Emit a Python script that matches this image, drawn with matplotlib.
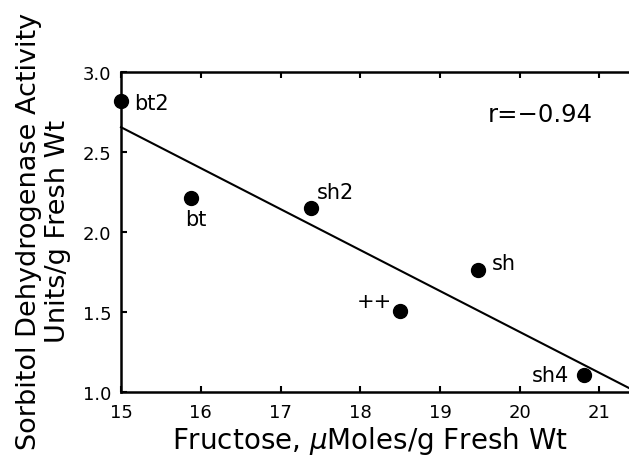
import numpy as np
import matplotlib.pyplot as plt

plt.rcParams['font.family'] = ['DejaVu Sans']

# data
labels = ["bt2", "bt", "sh2", "++", "sh", "sh4"]
fructose = [15.0, 15.88, 17.38, 18.5, 19.48, 20.81]
activity = [2.82, 2.21, 2.15, 1.507, 1.76, 1.105]
fit_x = [15.0, 21.37]
fit_y = [2.656, 1.023]
r_text = "r=\u22120.94"

# label offsets (points) and alignment
offsets = {"bt2": (9.5, -1.5, "left", "center"),
           "bt": (3, -14.5, "center", "center"),
           "sh2": (4, 11.5, "left", "center"),
           "++": (-6, 7, "right", "center"),
           "sh": (9.5, 5.5, "left", "center"),
           "sh4": (-11, 0, "right", "center")}

fig = plt.figure(figsize=(6.29, 4.56), dpi=100)
ax = fig.add_axes([0.1924, 0.1388, 0.8076, 0.7005])

ax.plot(fit_x, fit_y, color="black", lw=1.5, clip_on=False)
ax.scatter(fructose, activity, s=100, color="black", zorder=3, clip_on=False)
for lab, x, y in zip(labels, fructose, activity):
    dx, dy, ha, va = offsets[lab]
    ax.annotate(lab, (x, y), xytext=(dx, dy), textcoords="offset points",
                ha=ha, va=va, fontsize=15)

ax.text(20.92, 2.74, r_text, ha="right", va="center", fontsize=17.5)

ax.set_xlim(15, 21.37)
ax.set_ylim(1.0, 3.0)
ax.set_xticks([15, 16, 17, 18, 19, 20, 21])
ax.set_yticks([1.0, 1.5, 2.0, 2.5, 3.0])
ax.set_yticklabels(["1.0", "1.5", "2.0", "2.5", "3.0"])
ax.tick_params(direction="in", length=4.5, width=1.5, labelsize=13,
               top=True, right=False)
ax.tick_params(axis="x", pad=8)
ax.tick_params(axis="y", pad=7)
for s in ["left", "bottom", "top"]:
    ax.spines[s].set_linewidth(1.8)
ax.spines["right"].set_visible(False)

ax.set_xlabel(r"Fructose, $\mu$Moles/g Fresh Wt", fontsize=20)
ax.xaxis.set_label_coords(0.49, -0.1)
ax.set_ylabel("Sorbitol Dehydrogenase Activity\nUnits/g Fresh Wt",
              fontsize=19.5, linespacing=1.15)
ax.yaxis.set_label_coords(-0.098, 0.505)

fig.savefig("out.png", dpi=100)
